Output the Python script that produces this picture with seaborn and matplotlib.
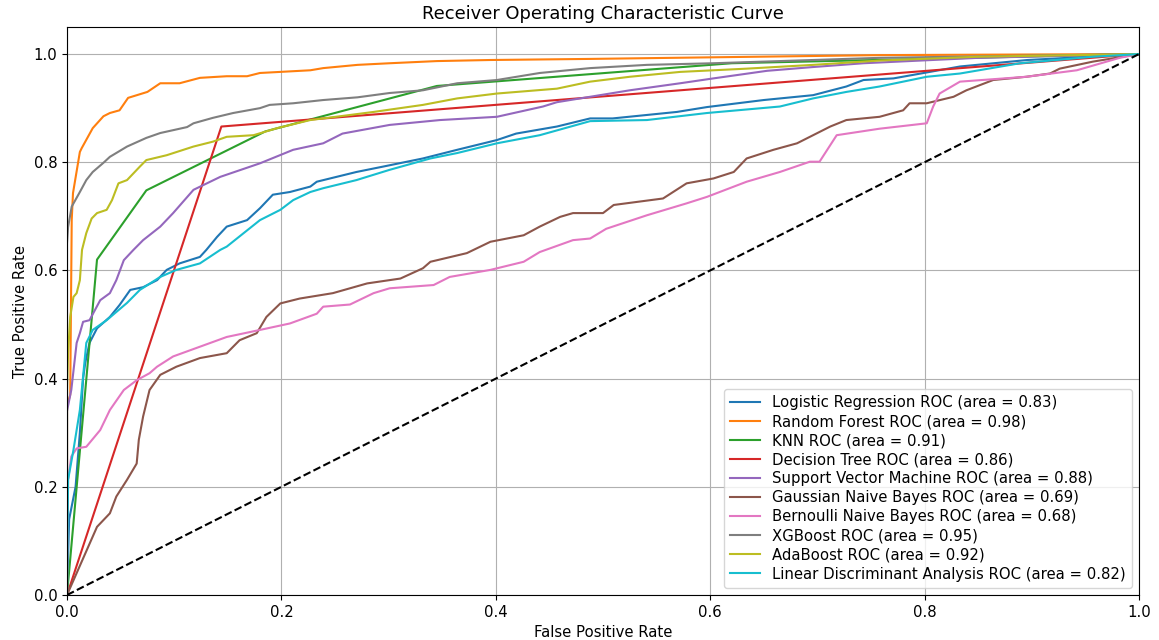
import matplotlib
matplotlib.use("Agg")
import matplotlib.pyplot as plt
import seaborn as sns
import pandas as pd

plt.rcParams["font.size"] = 10.75

# Model names and their reported areas under the ROC curve
models = [
    "Logistic Regression", "Random Forest", "KNN", "Decision Tree",
    "Support Vector Machine", "Gaussian Naive Bayes", "Bernoulli Naive Bayes",
    "XGBoost", "AdaBoost", "Linear Discriminant Analysis",
]
aucs = [0.83, 0.98, 0.91, 0.86, 0.88, 0.69, 0.68, 0.95, 0.92, 0.82]

# ROC curve vertices (false positive rate, true positive rate) for each model
logreg = [(0, 0), (0.002, 0.14), (0.008, 0.20), (0.012, 0.30), (0.015, 0.40),
          (0.017, 0.429), (0.021, 0.466), (0.028, 0.493), (0.040, 0.514),
          (0.049, 0.536), (0.059, 0.564), (0.071, 0.569), (0.084, 0.582),
          (0.093, 0.601), (0.105, 0.613), (0.124, 0.625), (0.130, 0.638),
          (0.140, 0.662), (0.149, 0.681), (0.168, 0.693), (0.180, 0.715),
          (0.192, 0.740), (0.208, 0.745), (0.227, 0.755), (0.233, 0.764),
          (0.270, 0.782), (0.295, 0.792), (0.332, 0.807), (0.364, 0.823),
          (0.401, 0.841), (0.419, 0.853), (0.457, 0.866), (0.488, 0.881),
          (0.509, 0.881), (0.569, 0.893), (0.597, 0.902), (0.650, 0.915),
          (0.696, 0.924), (0.727, 0.940), (0.743, 0.952), (0.771, 0.955),
          (0.833, 0.977), (0.896, 0.989), (1, 1)]
forest = [(0, 0), (0, 0.35), (0.003, 0.37), (0.0044, 0.693), (0.0056, 0.743),
          (0.012, 0.819), (0.0137, 0.826), (0.024, 0.863), (0.034, 0.885),
          (0.040, 0.891), (0.049, 0.896), (0.057, 0.919), (0.075, 0.930),
          (0.087, 0.946), (0.105, 0.946), (0.124, 0.956), (0.149, 0.959),
          (0.168, 0.959), (0.180, 0.965), (0.199, 0.967), (0.227, 0.970),
          (0.239, 0.974), (0.271, 0.980), (0.301, 0.983), (0.345, 0.987),
          (0.395, 0.989), (0.488, 0.991), (0.603, 0.994), (0.758, 0.998), (1, 1)]
knn = [(0, 0), (0.028, 0.62), (0.074, 0.748), (0.185, 0.857), (0.345, 0.941),
       (0.62, 0.983), (1, 1)]
tree = [(0, 0), (0.144, 0.866), (1, 1)]
svm = [(0, 0), (0, 0.34), (0.004, 0.379), (0.009, 0.466), (0.012, 0.484),
       (0.015, 0.505), (0.021, 0.508), (0.031, 0.545), (0.040, 0.558),
       (0.046, 0.582), (0.053, 0.619), (0.062, 0.638), (0.071, 0.656),
       (0.087, 0.681), (0.099, 0.706), (0.118, 0.749), (0.143, 0.773),
       (0.180, 0.798), (0.211, 0.823), (0.239, 0.835), (0.257, 0.853),
       (0.301, 0.869), (0.348, 0.878), (0.401, 0.884), (0.444, 0.903),
       (0.457, 0.911), (0.488, 0.921), (0.525, 0.933), (0.572, 0.946),
       (0.603, 0.955), (0.653, 0.969), (0.696, 0.976), (0.743, 0.983),
       (0.85, 0.993), (1, 1)]
gaussian_nb = [(0, 0), (0.028, 0.126), (0.040, 0.151), (0.046, 0.182),
               (0.056, 0.213), (0.065, 0.243), (0.067, 0.287), (0.071, 0.330),
               (0.077, 0.379), (0.087, 0.407), (0.102, 0.422), (0.124, 0.438),
               (0.149, 0.447), (0.161, 0.471), (0.177, 0.484), (0.186, 0.514),
               (0.199, 0.539), (0.217, 0.548), (0.248, 0.558), (0.280, 0.576),
               (0.311, 0.585), (0.332, 0.604), (0.339, 0.616), (0.373, 0.632),
               (0.395, 0.653), (0.426, 0.665), (0.441, 0.681), (0.460, 0.699),
               (0.472, 0.706), (0.500, 0.706), (0.510, 0.721), (0.556, 0.733),
               (0.578, 0.761), (0.603, 0.770), (0.622, 0.782), (0.634, 0.807),
               (0.659, 0.823), (0.681, 0.835), (0.696, 0.850), (0.712, 0.866),
               (0.727, 0.878), (0.758, 0.884), (0.780, 0.896), (0.786, 0.909),
               (0.802, 0.909), (0.827, 0.921), (0.839, 0.933), (0.864, 0.952),
               (0.895, 0.958), (0.917, 0.964), (0.926, 0.973), (0.957, 0.986),
               (1, 1)]
bernoulli_nb = [(0, 0), (0.001, 0.213), (0.004, 0.256), (0.009, 0.271),
                (0.018, 0.274), (0.031, 0.305), (0.040, 0.342), (0.053, 0.379),
                (0.065, 0.397), (0.077, 0.410), (0.084, 0.422), (0.099, 0.441),
                (0.124, 0.459), (0.149, 0.477), (0.180, 0.490), (0.208, 0.502),
                (0.233, 0.520), (0.239, 0.533), (0.264, 0.537), (0.286, 0.558),
                (0.301, 0.567), (0.342, 0.573), (0.357, 0.588), (0.395, 0.601),
                (0.426, 0.616), (0.441, 0.634), (0.472, 0.656), (0.488, 0.659),
                (0.503, 0.677), (0.541, 0.702), (0.578, 0.724), (0.597, 0.736),
                (0.634, 0.764), (0.665, 0.782), (0.693, 0.801), (0.702, 0.801),
                (0.718, 0.850), (0.758, 0.862), (0.802, 0.872), (0.808, 0.903),
                (0.814, 0.927), (0.833, 0.949), (0.895, 0.958), (0.942, 0.970),
                (0.982, 0.993), (1, 1)]
xgboost = [(0, 0), (0, 0.65), (0.001, 0.680), (0.0044, 0.718), (0.012, 0.745),
           (0.018, 0.767), (0.024, 0.782), (0.034, 0.799), (0.040, 0.810),
           (0.056, 0.829), (0.074, 0.845), (0.087, 0.854), (0.112, 0.865),
           (0.118, 0.872), (0.136, 0.882), (0.155, 0.891), (0.180, 0.900),
           (0.189, 0.906), (0.211, 0.909), (0.239, 0.915), (0.271, 0.920),
           (0.301, 0.928), (0.332, 0.933), (0.364, 0.946), (0.401, 0.952),
           (0.441, 0.965), (0.488, 0.974), (0.541, 0.980), (0.603, 0.983),
           (0.665, 0.987), (0.758, 0.993), (1, 1)]
adaboost = [(0, 0), (0, 0.38), (0.001, 0.447), (0.003, 0.514), (0.006, 0.551),
            (0.009, 0.558), (0.012, 0.582), (0.014, 0.638), (0.018, 0.669),
            (0.023, 0.696), (0.028, 0.706), (0.037, 0.712), (0.042, 0.730),
            (0.048, 0.761), (0.056, 0.767), (0.068, 0.792), (0.074, 0.804),
            (0.093, 0.813), (0.118, 0.829), (0.136, 0.838), (0.149, 0.847),
            (0.174, 0.850), (0.196, 0.863), (0.227, 0.878), (0.239, 0.881),
            (0.286, 0.893), (0.332, 0.906), (0.364, 0.918), (0.401, 0.927),
            (0.457, 0.936), (0.488, 0.949), (0.525, 0.958), (0.572, 0.967),
            (0.634, 0.973), (0.696, 0.980), (0.758, 0.988), (0.85, 0.995), (1, 1)]
lda = [(0, 0), (0.001, 0.213), (0.006, 0.268), (0.012, 0.342), (0.018, 0.466),
       (0.024, 0.490), (0.037, 0.508), (0.056, 0.540), (0.068, 0.564),
       (0.087, 0.588), (0.102, 0.601), (0.124, 0.613), (0.143, 0.638),
       (0.149, 0.644), (0.180, 0.693), (0.199, 0.712), (0.211, 0.730),
       (0.227, 0.745), (0.239, 0.752), (0.270, 0.767), (0.301, 0.786),
       (0.339, 0.807), (0.364, 0.817), (0.401, 0.835), (0.441, 0.850),
       (0.488, 0.876), (0.541, 0.878), (0.597, 0.891), (0.665, 0.903),
       (0.696, 0.918), (0.727, 0.930), (0.758, 0.940), (0.802, 0.958),
       (0.833, 0.964), (0.889, 0.983), (0.957, 0.995), (1, 1)]

curves = [logreg, forest, knn, tree, svm, gaussian_nb, bernoulli_nb,
          xgboost, adaboost, lda]

rows = []
for name, auc, pts in zip(models, aucs, curves):
    label = f"{name} ROC (area = {auc:.2f})"
    for fpr, tpr in pts:
        rows.append({"fpr": fpr, "tpr": tpr, "model": label})
df = pd.DataFrame(rows)
labels = list(dict.fromkeys(df["model"]))

fig, ax = plt.subplots(figsize=(11.59, 6.4), dpi=100)
fig.subplots_adjust(left=67 / 1159, right=1139 / 1159,
                    bottom=1 - 595 / 640, top=1 - 27 / 640)

sns.lineplot(data=df, x="fpr", y="tpr", hue="model", hue_order=labels,
             palette=sns.color_palette("tab10", 10), sort=False,
             estimator=None, linewidth=1.5, ax=ax)

# Chance diagonal
sns.lineplot(x=[0, 1], y=[0, 1], color="k", linestyle="--", linewidth=1.5,
             legend=False, ax=ax)

leg = ax.get_legend()
handles = leg.legend_handles
ax.legend(handles, labels, loc="lower right", labelspacing=0.27)

ax.set_xlim(0, 1)
ax.set_ylim(0, 1.05)
ax.grid(True)
ax.set_xlabel("False Positive Rate")
ax.set_ylabel("True Positive Rate")
ax.set_title("Receiver Operating Characteristic Curve", fontsize=12.9)

fig.savefig("out.png", dpi=100)
